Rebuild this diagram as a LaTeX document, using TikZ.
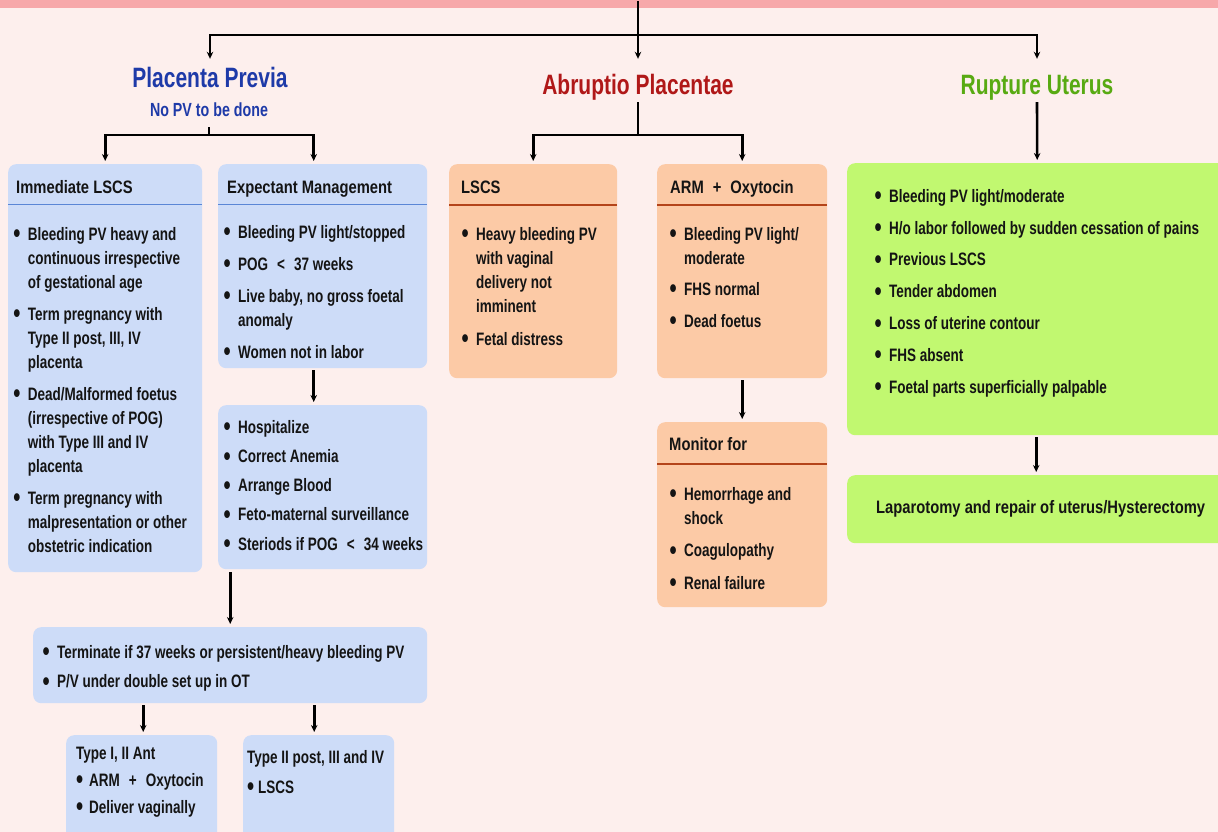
\documentclass[tikz,border=0pt]{standalone}
\usepackage{fontspec}
\setmainfont{Liberation Sans}[FakeStretch=0.75]
\newfontfamily\hdfont{Liberation Sans}[FakeStretch=0.82]
\usetikzlibrary{arrows.meta}
\definecolor{bg}{HTML}{FDEFED}
\definecolor{band}{HTML}{F7A8AA}
\definecolor{bfill}{HTML}{CDDCF8}
\definecolor{bline}{HTML}{5A86D6}
\definecolor{ofill}{HTML}{FCCAA6}
\definecolor{oline}{HTML}{B4441A}
\definecolor{gfill}{HTML}{C1F870}
\definecolor{tblue}{HTML}{1E3AA8}
\definecolor{tred}{HTML}{B01818}
\definecolor{tgreen}{HTML}{58AA12}
\definecolor{ink}{HTML}{141414}
\newcommand\bul[1][14.5pt]{\makebox[#1][l]{\raisebox{-2.6pt}{\scalebox{1.5}{•}}}}
\newcommand\ind[1][14.5pt]{\hspace*{#1}}
\newcommand\fstrut{\rule{0pt}{14pt}}
\newcommand\wsp{\hspace{9pt}}
\begin{document}
\begin{tikzpicture}[x=1pt,y=-1pt,
  box/.style={rounded corners=8pt, anchor=north west, inner sep=0pt, draw=none},
  bluebox/.style={box, fill=bfill},
  orangebox/.style={box, fill=ofill},
  greenbox/.style={box, fill=gfill},
  txt/.style={anchor=north west, inner sep=0pt, align=left, text=ink, font=\fontsize{18}{#1}\selectfont\bfseries},
  txt/.default=24,
  hdr/.style={anchor=north west, inner sep=0pt, text=ink, font=\hdfont\fontsize{18}{24}\selectfont\bfseries},
  ttl/.style={anchor=base, inner sep=0pt, text height=33pt, text depth=7pt, font=\fontsize{28}{30}\selectfont\bfseries},
  conn/.style={draw=black, line width=2.6pt},
  arr/.style={conn, -{Stealth[length=7pt,width=6.5pt]}, shorten >=3pt},
  sepb/.style={draw=bline, line width=1.5pt},
  sepo/.style={draw=oline, line width=1.5pt}
]
\useasboundingbox (0,0) rectangle (1218,832);
\fill[bg] (0,0) rectangle (1218,832);
\begin{scope}
\clip (0,0) rectangle (1218,832);
\fill[band] (0,0) rectangle (1218,8.5);

% titles
\node[ttl, text=tblue, text height=26pt, text depth=0pt] (pp) at (210,88) {Placenta Previa};
\node[anchor=base, inner sep=0pt, text=tblue, text height=13pt, text depth=10pt,
      font=\fontsize{19}{21}\selectfont\bfseries] (nopv) at (209,117) {No PV to be done};
\node[ttl, text=tred] (ap) at (638,95) {Abruptio Placentae};
\node[ttl, text=tgreen] (ru) at (1037,95) {Rupture Uterus};

% boxes
\node[bluebox, minimum width=194pt, minimum height=408pt] (imm) at (8,164) {};
\node[bluebox, minimum width=209pt, minimum height=204pt] (exp) at (218,164) {};
\node[bluebox, minimum width=209pt, minimum height=164pt] (hosp) at (218,405) {};
\node[bluebox, minimum width=394pt, minimum height=76pt] (term) at (33,627) {};
\node[bluebox, minimum width=151pt, minimum height=105pt] (t1) at (66,735) {};
\node[bluebox, minimum width=151pt, minimum height=105pt] (t2) at (243,735) {};
\node[orangebox, minimum width=168pt, minimum height=214pt] (alscs) at (449,164) {};
\node[orangebox, minimum width=170pt, minimum height=214pt] (arm) at (657,164) {};
\node[orangebox, minimum width=170pt, minimum height=185pt] (mon) at (657,422) {};
\node[greenbox, minimum width=380pt, minimum height=272pt] (rup) at (847,163) {};
\node[greenbox, minimum width=380pt, minimum height=68pt] (lap) at (847,475) {};

% header separators
\draw[sepb] ([yshift=-40.5pt]imm.north west) -- ([yshift=-40.5pt]imm.north east);
\draw[sepb] ([yshift=-40.5pt]exp.north west) -- ([yshift=-40.5pt]exp.north east);
\draw[sepo] ([yshift=-41pt]alscs.north west) -- ([yshift=-41pt]alscs.north east);
\draw[sepo] ([yshift=-41pt]arm.north west) -- ([yshift=-41pt]arm.north east);
\draw[sepo] ([yshift=-42pt]mon.north west) -- ([yshift=-42pt]mon.north east);

% connectors
\coordinate (top) at (638,1);
\coordinate (tj) at (638,35);
\coordinate (ppj) at (209,135);
\coordinate (apj) at (638,135);
\draw[arr] (top) -- (ap.north);
\draw[arr] (tj) -| (pp.north);
\draw[arr] (tj) -| (ru.north);
\draw[conn] (nopv.south) -- (ppj);
\draw[arr] (ppj) -| (imm.north);
\draw[arr] (ppj) -| ([xshift=-9pt]exp.north);
\draw[conn] (ap.south) -- (apj);
\draw[arr] (apj) -| (alscs.north);
\draw[arr] (apj) -| (arm.north);
\draw[arr] (ru.south) -- (rup.north);
\draw[arr, shorten <=2pt] ([xshift=-9pt]exp.south) -- ([xshift=-9pt]hosp.north);
\draw[arr, shorten <=3pt] (hosp.south -| term.north) -- (term.north);
\draw[arr, shorten <=2pt] ([xshift=1.5pt]term.south -| t1.north) -- ([xshift=1.5pt]t1.north);
\draw[arr, shorten <=2pt] ([xshift=-4.5pt]term.south -| t2.north) -- ([xshift=-4.5pt]t2.north);
\draw[arr, shorten <=2pt] (arm) -- (mon);
\draw[arr, shorten <=2pt] ([xshift=-1pt]rup.south) -- ([xshift=-1pt]lap.north);

% texts: Placenta Previa
\node[hdr] (immh) at (16,179) {\fstrut Immediate LSCS};
\node[txt] (immt) at (13.2,226) {\fstrut\bul Bleeding PV heavy and\\
  \ind continuous irrespective\\ \ind of gestational age\\[8pt]
  \bul Term pregnancy with\\ \ind Type II post, III, IV\\ \ind placenta\\[8pt]
  \bul Dead/Malformed foetus\\ \ind (irrespective of POG)\\ \ind with Type III and IV\\ \ind placenta\\[8pt]
  \bul Term pregnancy with\\ \ind malpresentation or other\\ \ind obstetric indication};
\node[hdr] (exph) at (227,179) {\fstrut Expectant Management};
\node[txt] (expt) at (223.5,224) {\fstrut\bul Bleeding PV light/stopped\\[8pt]
  \bul POG\wsp<\wsp37 weeks\\[8pt]
  \bul Live baby, no gross foetal\\ \ind anomaly\\[8pt]
  \bul Women not in labor};
\node[txt=29.25] (hospt) at (223.5,419) {\fstrut\bul Hospitalize\\ \bul Correct Anemia\\
  \bul Arrange Blood\\ \bul Feto-maternal surveillance\\ \bul Steriods if POG\wsp<\wsp34 weeks};
\node[txt=29.5] (termt) at (42.5,644) {\fstrut\bul Terminate if 37 weeks or persistent/heavy bleeding PV\\
  \bul P/V under double set up in OT};
\node[txt=27] (t1t) at (76,745) {\fstrut Type I, II Ant\\ \bul[13pt]ARM\wsp+\wsp Oxytocin\\ \bul[13pt]Deliver vaginally};
\node[txt=30] (t2t) at (247,749) {\fstrut Type II post, III and IV\\ \bul[11pt]LSCS};

% texts: Abruptio
\node[hdr] (alscsh) at (461,179) {\fstrut LSCS};
\node[txt] (alscst) at (461.5,226) {\fstrut\bul Heavy bleeding PV\\ \ind with vaginal\\
  \ind delivery not\\ \ind imminent\\[9pt] \bul Fetal distress};
\node[hdr] (armh) at (670,179) {\fstrut ARM\wsp+\wsp Oxytocin};
\node[txt] (armt) at (669.5,226) {\fstrut\bul Bleeding PV light/\\ \ind moderate\\[7pt]
  \bul FHS normal\\[8pt] \bul Dead foetus};
\node[hdr] (monh) at (669,436) {\fstrut Monitor for};
\node[txt] (mont) at (669.5,486) {\fstrut\bul Hemorrhage and\\ \ind shock\\[8.5pt]
  \bul Coagulopathy\\[8.5pt] \bul Renal failure};

% texts: Rupture
\node[txt=31.8] (rupt) at (874.5,188) {\fstrut\bul Bleeding PV light/moderate\\
  \bul H/o labor followed by sudden cessation of pains\\
  \bul Previous LSCS\\ \bul Tender abdomen\\ \bul Loss of uterine contour\\
  \bul FHS absent\\ \bul Foetal parts superficially palpable};
\node[hdr] (lapt) at (876,499) {\fstrut Laparotomy and repair of uterus/Hysterectomy};
\end{scope}
\end{tikzpicture}
\end{document}
